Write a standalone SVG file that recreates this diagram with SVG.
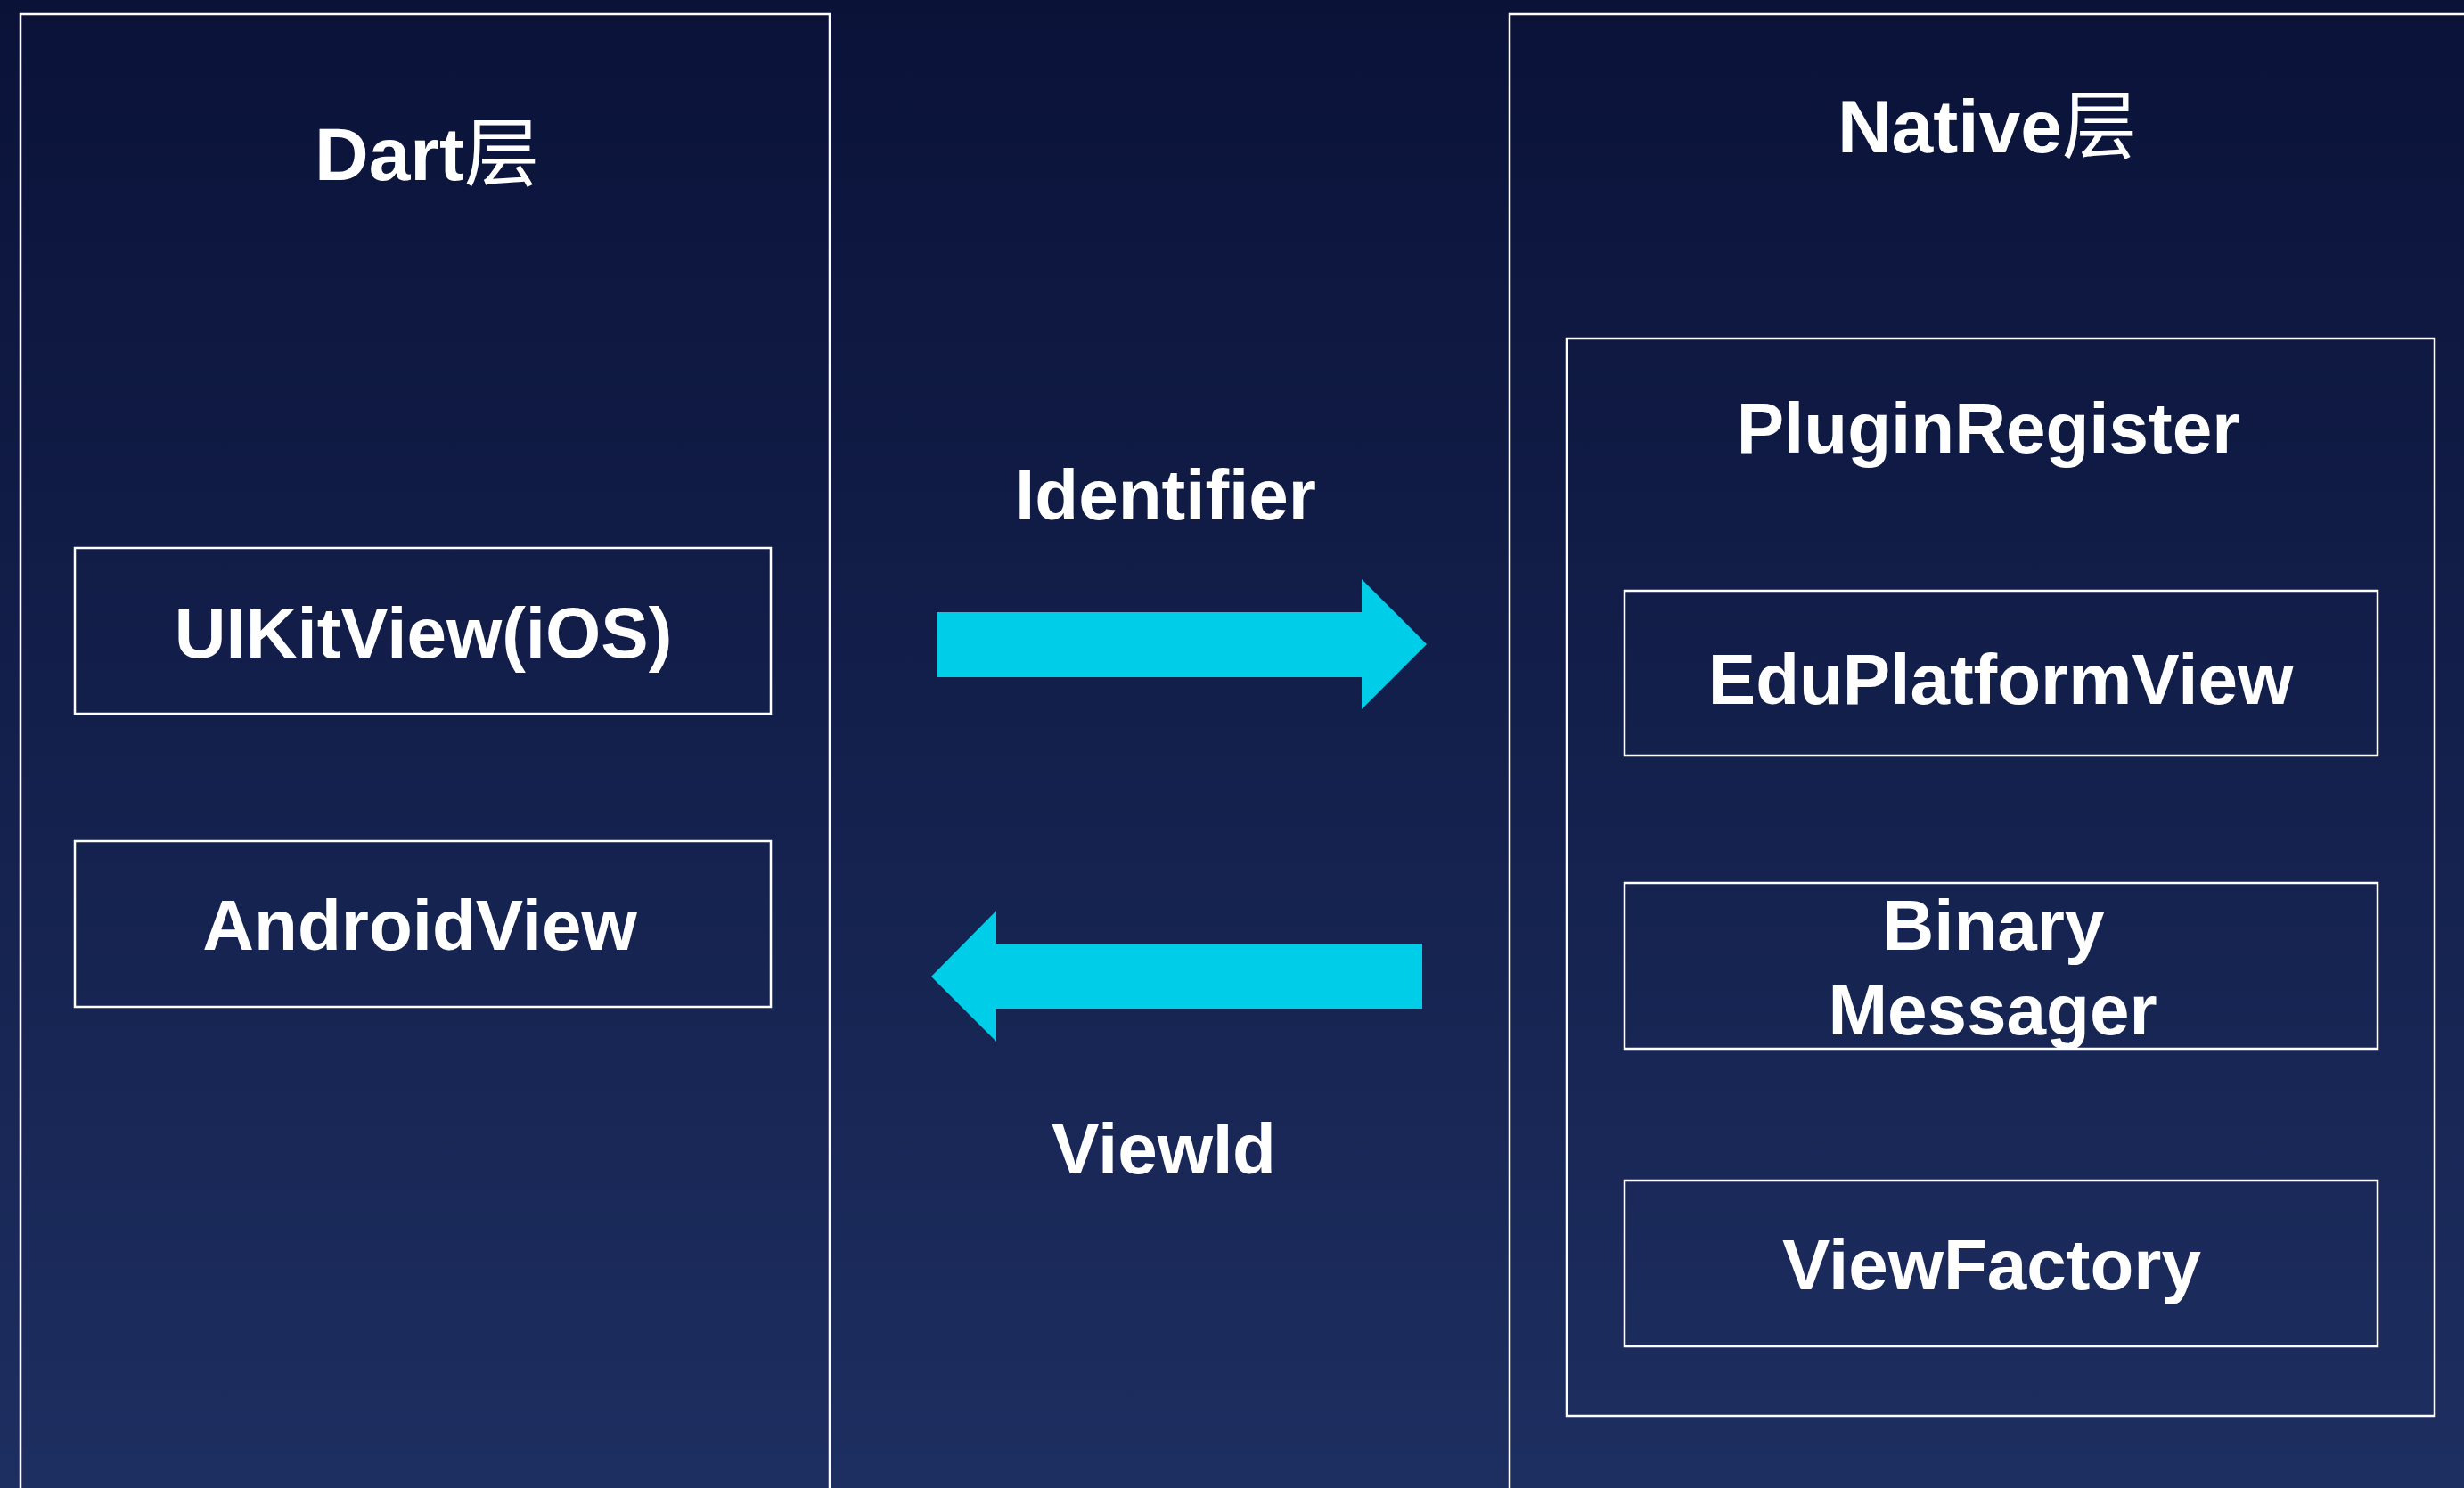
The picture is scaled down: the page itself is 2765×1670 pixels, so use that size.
<svg xmlns="http://www.w3.org/2000/svg" width="2765" height="1670" viewBox="0 0 2765 1670">
<defs>
<linearGradient id="bg" x1="0" y1="0" x2="0" y2="1">
<stop offset="0" stop-color="#0a1238"/>
<stop offset="1" stop-color="#1d2e60"/>
</linearGradient>
<style>
.box{fill:none;stroke:#ffffff;stroke-width:2.5}
.t{font-family:"Liberation Sans","Noto Sans CJK SC",Arial,sans-serif;font-weight:bold;fill:#ffffff;text-anchor:middle}
.cjk{font-weight:normal}
.arrow{fill:#00cde8}
</style>
</defs>
<rect x="0" y="0" width="2765" height="1670" fill="url(#bg)"/>
<g id="dart-layer">
<rect class="box" x="23" y="16" width="908" height="1700"/>
<text class="t" x="479" y="202" font-size="84">Dart<tspan class="cjk">层</tspan></text>
</g>
<g id="native-layer">
<rect class="box" x="1694" y="16" width="1100" height="1700"/>
<text class="t" x="2230" y="171" font-size="84">Native<tspan class="cjk">层</tspan></text>
</g>
<g id="uikitview">
<rect class="box" x="84" y="615" width="781" height="186"/>
<text class="t" x="475" y="738" font-size="80">UIKitView(iOS)</text>
</g>
<g id="androidview">
<rect class="box" x="84" y="944" width="781" height="186"/>
<text class="t" x="471" y="1066" font-size="80">AndroidView</text>
</g>
<g id="pluginregister">
<rect class="box" x="1758" y="380" width="974" height="1209"/>
<text class="t" x="2231" y="508" font-size="80">PluginRegister</text>
</g>
<g id="eduplatformview">
<rect class="box" x="1823" y="663" width="845" height="185"/>
<text class="t" x="2245" y="790" font-size="80">EduPlatformView</text>
</g>
<g id="binarymessager">
<rect class="box" x="1823" y="991" width="845" height="186"/>
<text class="t" x="2237" y="1066" font-size="80">Binary</text>
<text class="t" x="2236" y="1161" font-size="80">Messager</text>
</g>
<g id="viewfactory">
<rect class="box" x="1823" y="1325" width="845" height="186"/>
<text class="t" x="2235" y="1447" font-size="80">ViewFactory</text>
</g>
<g id="connectors">
<polygon class="arrow" points="1051,687 1528,687 1528,650 1601,723 1528,796 1528,760 1051,760"/>
<text class="t" x="1308" y="583" font-size="80">Identifier</text>
<polygon class="arrow" points="1596,1059 1118,1059 1118,1022 1045,1096 1118,1169 1118,1132 1596,1132"/>
<text class="t" x="1306" y="1317" font-size="80">ViewId</text>
</g>
</svg>
